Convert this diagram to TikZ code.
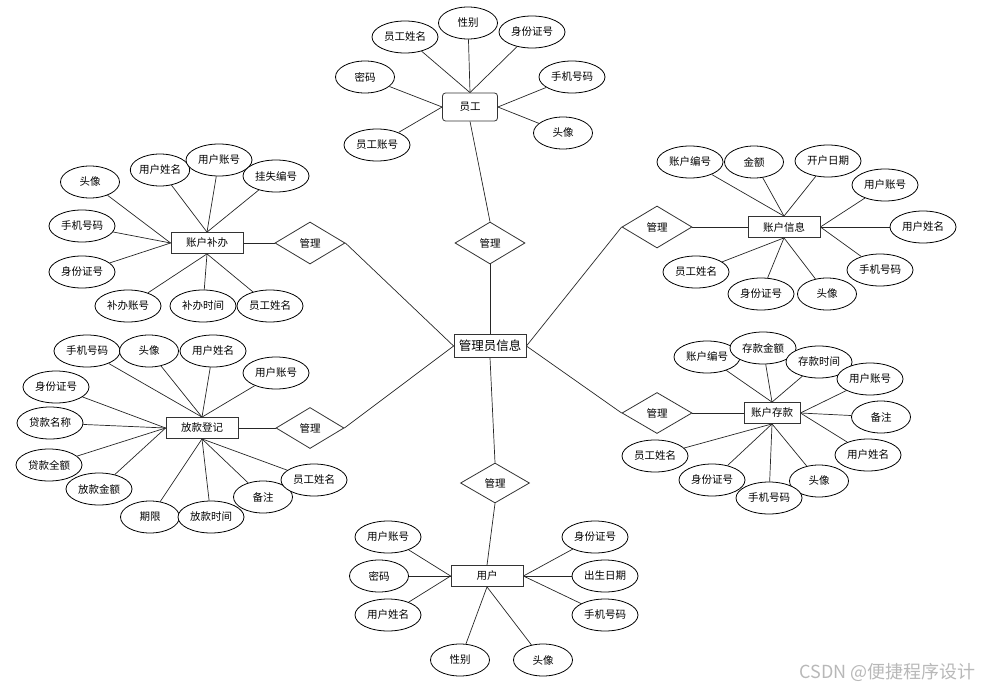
\documentclass[tikz,border=0pt]{standalone}
\usepackage{fontspec}
\setmainfont{Noto Sans CJK SC}
\usetikzlibrary{shapes.geometric,backgrounds}
\newcommand{\erfont}{\fontsize{10.5}{12}\selectfont}
\tikzset{
  entity/.style={
    rectangle,
    draw=black!80,
    fill=white,
    line width=0.8pt,
    minimum width=72pt,
    minimum height=21pt,
    inner sep=1pt,
    font=\erfont
  },
  mainentity/.style={
    entity,
    minimum height=23pt,
    font=\fontsize{12.5}{14}\selectfont
  },
  attr/.style={
    ellipse,
    draw=black,
    fill=white,
    line width=0.8pt,
    minimum width=66pt,
    minimum height=32pt,
    inner sep=0pt,
    font=\erfont
  },
  shortattr/.style={
    attr,
    minimum width=59pt
  },
  relation/.style={
    diamond,
    draw=black!80,
    fill=white,
    line width=0.8pt,
    minimum width=70pt,
    minimum height=42pt,
    inner sep=0pt,
    font=\erfont
  },
  link/.style={
    draw=black!85,
    line width=0.7pt
  }
}

\begin{document}
\begin{tikzpicture}[x=1pt,y=-1pt]
  \useasboundingbox (0,0) rectangle (981,690);

  \node[mainentity] (admin) at (490,346) {管理员信息};

  % staff
  \node[entity, rounded corners=3pt, minimum width=55pt, minimum height=28pt] (staff) at (470,107) {员工};
  \node[relation] (mstaff) at (490,243) {管理};
  \node[attr] (staff-name) at (405,37) {员工姓名};
  \node[shortattr] (staff-sex) at (468,23) {性别};
  \node[attr] (staff-id) at (532,32) {身份证号};
  \node[shortattr] (staff-pwd) at (365,77) {密码};
  \node[attr] (staff-phone) at (572,77) {手机号码};
  \node[attr] (staff-acc) at (377,145) {员工账号};
  \node[shortattr] (staff-img) at (563,133) {头像};

  % reissue
  \node[entity] (reissue) at (207,243) {账户补办};
  \node[relation] (mreissue) at (310,243) {管理};
  \node[shortattr] (re-img) at (90,182) {头像};
  \node[shortattr] (re-uname) at (160,170) {用户姓名};
  \node[attr] (re-uacc) at (219,160) {用户账号};
  \node[attr] (re-lost) at (276,176) {挂失编号};
  \node[attr] (re-phone) at (82,226) {手机号码};
  \node[attr] (re-id) at (82,272) {身份证号};
  \node[attr] (re-acc) at (128,306) {补办账号};
  \node[attr] (re-time) at (203,306) {补办时间};
  \node[attr] (re-staff) at (270,306) {员工姓名};

  % account
  \node[entity] (account) at (784,227) {账户信息};
  \node[relation] (maccount) at (657,227) {管理};
  \node[attr] (ac-no) at (690,162) {账户编号};
  \node[shortattr] (ac-amt) at (754,162) {金额};
  \node[attr] (ac-date) at (828,161) {开户日期};
  \node[attr] (ac-uacc) at (885,185) {用户账号};
  \node[attr] (ac-uname) at (923,227) {用户姓名};
  \node[attr] (ac-phone) at (880,270) {手机号码};
  \node[attr] (ac-staff) at (696,272) {员工姓名};
  \node[attr] (ac-id) at (761,294) {身份证号};
  \node[shortattr] (ac-img) at (827,294) {头像};

  % loan
  \node[entity] (loan) at (202,428) {放款登记};
  \node[relation, minimum width=68pt, minimum height=41pt] (mloan) at (310,428) {管理};
  \node[attr] (ln-phone) at (87,351) {手机号码};
  \node[shortattr] (ln-img) at (149,351) {头像};
  \node[attr] (ln-uname) at (213,351) {用户姓名};
  \node[attr] (ln-uacc) at (276,373) {用户账号};
  \node[attr] (ln-id) at (56,387) {身份证号};
  \node[attr] (ln-name) at (50,423) {贷款名称};
  \node[attr] (ln-total) at (49,465) {贷款全额};
  \node[attr] (ln-amt) at (99,489) {放款金额};
  \node[shortattr] (ln-term) at (150,517) {期限};
  \node[attr] (ln-time) at (211,517) {放款时间};
  \node[shortattr] (ln-note) at (263,497) {备注};
  \node[attr] (ln-staff) at (314,480) {员工姓名};

  % deposit
  \node[entity, minimum width=56pt] (deposit) at (772,413) {账户存款};
  \node[relation, minimum height=41pt] (mdeposit) at (657,413) {管理};
  \node[attr] (dp-no) at (707,357) {账户编号};
  \node[attr] (dp-amt) at (763,348) {存款金额};
  \node[attr] (dp-time) at (819,362) {存款时间};
  \node[attr] (dp-uacc) at (870,379) {用户账号};
  \node[shortattr] (dp-note) at (881,417) {备注};
  \node[attr] (dp-uname) at (868,455) {用户姓名};
  \node[shortattr] (dp-img) at (819,481) {头像};
  \node[attr] (dp-phone) at (769,498) {手机号码};
  \node[attr] (dp-id) at (712,480) {身份证号};
  \node[attr] (dp-staff) at (655,456) {员工姓名};

  % user
  \node[entity] (user) at (487,576) {用户};
  \node[relation, minimum width=69pt, minimum height=40pt] (muser) at (495,483) {管理};
  \node[attr] (us-acc) at (388,537) {用户账号};
  \node[shortattr] (us-pwd) at (379,576) {密码};
  \node[attr] (us-name) at (388,615) {用户姓名};
  \node[shortattr] (us-sex) at (460,660) {性别};
  \node[shortattr] (us-img) at (543,660) {头像};
  \node[attr] (us-id) at (595,537) {身份证号};
  \node[attr] (us-birth) at (605,576) {出生日期};
  \node[attr] (us-phone) at (605,615) {手机号码};

  \node[font=\fontsize{18}{20}\selectfont, text=black!28, anchor=east, inner sep=0pt] (mark) at (976,672) {CSDN @便捷程序设计};

  \begin{scope}[on background layer]
    \draw[link] (staff.south) -- (mstaff.north);
    \draw[link] (mstaff.south) -- (admin.north);
    \draw[link] (reissue.east) -- (mreissue.west);
    \draw[link] (mreissue.east) -- (admin.west);
    \draw[link] (maccount.east) -- (account.west);
    \draw[link] (maccount.west) -- (admin.east);
    \draw[link] (loan.east) -- (mloan.west);
    \draw[link] (mloan.east) -- (admin.west);
    \draw[link] (mdeposit.east) -- (deposit.west);
    \draw[link] (mdeposit.west) -- (admin.east);
    \draw[link] (admin.south) -- (muser.north);
    \draw[link] (muser.south) -- (user.north);

    \foreach \a in {staff-name,staff-sex,staff-id} \draw[link] (\a) -- (staff.north);
    \foreach \a in {staff-pwd,staff-acc} \draw[link] (\a) -- (staff.west);
    \foreach \a in {staff-phone,staff-img} \draw[link] (\a) -- (staff.east);

    \foreach \a in {re-uname,re-uacc,re-lost} \draw[link] (\a) -- (reissue.north);
    \foreach \a in {re-img,re-phone,re-id} \draw[link] (\a) -- (reissue.west);
    \foreach \a in {re-acc,re-time,re-staff} \draw[link] (\a) -- (reissue.south);

    \foreach \a in {ac-no,ac-amt,ac-date} \draw[link] (\a) -- (account.north);
    \foreach \a in {ac-uacc,ac-uname,ac-phone} \draw[link] (\a) -- (account.east);
    \foreach \a in {ac-staff,ac-id,ac-img} \draw[link] (\a) -- (account.south);

    \foreach \a in {ln-phone,ln-img,ln-uname,ln-uacc} \draw[link] (\a) -- (loan.north);
    \foreach \a in {ln-id,ln-name,ln-total,ln-amt} \draw[link] (\a) -- (loan.west);
    \foreach \a in {ln-term,ln-time,ln-note,ln-staff} \draw[link] (\a) -- (loan.south);

    \foreach \a in {dp-no,dp-amt,dp-time} \draw[link] (\a) -- (deposit.north);
    \foreach \a in {dp-uacc,dp-note,dp-uname} \draw[link] (\a) -- (deposit.east);
    \foreach \a in {dp-staff,dp-id,dp-phone,dp-img} \draw[link] (\a) -- (deposit.south);

    \foreach \a in {us-acc,us-pwd,us-name} \draw[link] (\a) -- (user.west);
    \foreach \a in {us-id,us-birth,us-phone} \draw[link] (\a) -- (user.east);
    \foreach \a in {us-sex,us-img} \draw[link] (\a) -- (user.south);
  \end{scope}
\end{tikzpicture}
\end{document}
